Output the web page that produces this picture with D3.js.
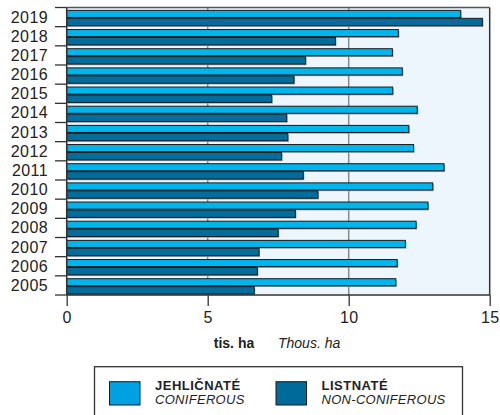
<!DOCTYPE html>
<html><head><meta charset="utf-8">
<script src="https://cdn.jsdelivr.net/npm/d3@7"></script>
<style>body{margin:0;background:#fff;} svg{display:block;font-family:"Liberation Sans",Arial,Helvetica,sans-serif;}</style>
</head><body>
<svg id="c" width="500" height="415"></svg>
<script>
const years = ["2019","2018","2017","2016","2015","2014","2013","2012","2011","2010","2009","2008","2007","2006","2005"];
const coniferous = [13.97,11.76,11.55,11.9,11.56,12.43,12.13,12.3,13.38,12.98,12.81,12.39,12.01,11.72,11.67];
const nonConiferous = [14.74,9.53,8.47,8.06,7.27,7.8,7.84,7.62,8.39,8.91,8.11,7.5,6.82,6.76,6.65];
const xTicks = [0,5,10,15];
const seriesNames = [["JEHLIČNATÉ","CONIFEROUS"],["LISTNATÉ","NON-CONIFEROUS"]];

const svg = d3.select("#c");
const L=66.7, R=489.7, T=7.5, B=295;
const x = d3.scaleLinear().domain([0,15]).range([L,R]);
const y = d3.scaleBand().domain(years).range([T,B]);
const bw = y.bandwidth();

svg.append("rect").attr("x",L).attr("y",T).attr("width",R-L).attr("height",B-T).attr("fill","#eef6fd");
// grid
svg.selectAll(".g").data([5,10]).enter().append("line")
  .attr("x1",d=>x(d)).attr("x2",d=>x(d)).attr("y1",T).attr("y2",B)
  .attr("stroke","#8a8a8a").attr("stroke-width",1.5);

const light="#00b4ec", dark="#006d9c";
const rows = years.map((yr,i)=>({yr,c:coniferous[i],n:nonConiferous[i]}));
const g = svg.append("g");
// shadows
g.selectAll(".sc").data(rows).enter().append("rect")
  .attr("x",x(0)+1).attr("y",d=>y(d.yr)+bw*0.15+1.2).attr("width",d=>x(d.c)-x(0)).attr("height",bw*0.37)
  .attr("fill","#9a9a9a");
g.selectAll(".sn").data(rows).enter().append("rect")
  .attr("x",x(0)+1).attr("y",d=>y(d.yr)+bw*0.565+1.2).attr("width",d=>x(d.n)-x(0)).attr("height",bw*0.385)
  .attr("fill","#9a9a9a");
g.selectAll(".bc").data(rows).enter().append("rect")
  .attr("x",x(0)).attr("y",d=>y(d.yr)+bw*0.15).attr("width",d=>x(d.c)-x(0)).attr("height",bw*0.37)
  .attr("fill",light).attr("stroke","#1a1a1a").attr("stroke-width",1);
g.selectAll(".bn").data(rows).enter().append("rect")
  .attr("x",x(0)).attr("y",d=>y(d.yr)+bw*0.565).attr("width",d=>x(d.n)-x(0)).attr("height",bw*0.385)
  .attr("fill",dark).attr("stroke","#1a1a1a").attr("stroke-width",1);

// frame
svg.append("line").attr("x1",L).attr("x2",R).attr("y1",T).attr("y2",T).attr("stroke","#555").attr("stroke-width",1.5);
svg.append("line").attr("x1",R).attr("x2",R).attr("y1",T).attr("y2",B).attr("stroke","#333").attr("stroke-width",1.5);
svg.append("line").attr("x1",L).attr("x2",R).attr("y1",B).attr("y2",B).attr("stroke","#333").attr("stroke-width",1.5);
svg.append("line").attr("x1",L).attr("x2",L).attr("y1",T).attr("y2",B).attr("stroke","#333").attr("stroke-width",1.5);

// y ticks at band boundaries
const bounds = years.map(d=>y(d)).concat([B]);
svg.selectAll(".yt").data(bounds).enter().append("line")
  .attr("x1",55).attr("x2",L).attr("y1",d=>d).attr("y2",d=>d).attr("stroke","#333").attr("stroke-width",1.3);
svg.selectAll(".yl").data(years).enter().append("text")
  .attr("x",48).attr("y",d=>y(d)+bw/2+5.5).attr("text-anchor","end")
  .attr("font-size",16).attr("letter-spacing",0.4).attr("fill","#222").text(d=>d);

// x axis
const xa = svg.append("g").attr("transform",`translate(0,${B})`)
  .call(d3.axisBottom(x).tickValues(xTicks).tickSize(11).tickPadding(6).tickFormat(d3.format("d")));
xa.select(".domain").remove();
xa.selectAll("line").attr("stroke","#333").attr("stroke-width",1.3);
xa.selectAll("text").attr("font-size",16).attr("letter-spacing",0.4).attr("fill","#222")
  .attr("font-family","'Liberation Sans',Arial,sans-serif");

svg.append("text").attr("x",234).attr("y",348).attr("text-anchor","middle").attr("font-size",14)
  .attr("font-weight","bold").attr("fill","#222").text("tis. ha");
svg.append("text").attr("x",278).attr("y",348).attr("font-size",14)
  .attr("font-style","italic").attr("fill","#222").text("Thous. ha");

// legend
svg.append("rect").attr("x",94.5).attr("y",366.7).attr("width",368).attr("height",60)
  .attr("fill","#fff").attr("stroke","#333").attr("stroke-width",1.3);
const lg = [{x:109.5,c:"#00a1e2",t:seriesNames[0]},{x:276,c:"#006a9a",t:seriesNames[1]}];
lg.forEach(d=>{
  svg.append("rect").attr("x",d.x).attr("y",381.7).attr("width",30.5).attr("height",23.3)
    .attr("fill",d.c).attr("stroke","#1a1a1a").attr("stroke-width",1);
  svg.append("text").attr("x",d.x+45.5).attr("y",389.5).attr("font-size",13).attr("letter-spacing",0.5)
    .attr("font-weight","bold").attr("fill","#222").text(d.t[0]);
  svg.append("text").attr("x",d.x+45.5).attr("y",404).attr("font-size",13).attr("letter-spacing",0.3)
    .attr("font-style","italic").attr("fill","#222").text(d.t[1]);
});
</script>
</body></html>
